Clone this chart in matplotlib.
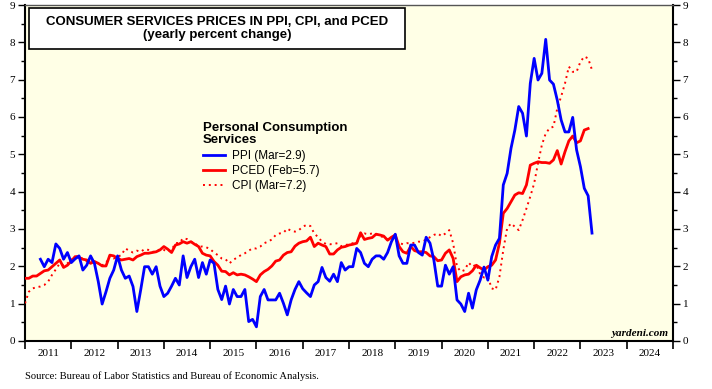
import numpy as np
import matplotlib
matplotlib.use('Agg')
import matplotlib.pyplot as plt
from matplotlib.patches import Rectangle

# monthly series, yearly % change (x = month end, so Dec 2010 sits on 2011.0)
ppi_start = (2011, 4)
ppi = [2.19, 1.99, 2.19, 2.10, 2.60, 2.48, 2.19, 2.37, 2.10, 2.20, 2.28, 1.90, 2.03, 2.28, 2.08, 1.59,
       0.99, 1.32, 1.68, 1.90, 2.28, 1.90, 1.68, 1.74, 1.46, 0.79, 1.37, 1.99, 1.99, 1.79, 1.99, 1.47,
       1.19, 1.28, 1.47, 1.68, 1.50, 2.28, 1.70,
       1.99, 2.19, 1.70, 2.10, 1.79, 2.17, 2.08, 1.38, 1.11, 1.47, 0.99, 1.38, 1.19, 1.19, 1.38, 0.52,
       0.58, 0.38, 1.19, 1.38, 1.10, 1.10, 1.10, 1.28, 1.01, 0.70, 1.10, 1.38, 1.59, 1.40, 1.29, 1.19,
       1.50, 1.59, 1.97, 1.70, 1.60, 1.79, 1.59, 2.10, 1.90, 1.99,
       1.99, 2.48, 2.37, 2.08, 1.99, 2.19, 2.28, 2.28, 2.19, 2.37, 2.66, 2.86, 2.28, 2.08, 2.08, 2.57,
       2.57, 2.37, 2.30, 2.78, 2.62, 2.17, 1.47, 1.47, 2.03, 1.79, 1.99, 1.10, 0.99, 0.79, 1.28, 0.88,
       1.37, 1.63, 1.98,
       1.63, 2.26, 2.57, 2.75, 4.18, 4.49, 5.16, 5.65, 6.28, 6.10, 5.49, 6.90, 7.57, 6.99, 7.17, 8.08,
       6.99, 6.88, 6.45, 5.92, 5.60, 5.60, 5.99, 5.12, 4.67, 4.09, 3.89, 2.89]

pced_start = (2010, 12)
pced = [1.68, 1.68, 1.74, 1.74, 1.81, 1.88, 1.90, 1.99, 2.08, 2.17, 1.97, 2.03, 2.14, 2.26, 2.24, 2.19,
        2.17, 2.08, 2.13, 2.08, 2.01, 2.01, 2.30, 2.28, 2.21, 2.17, 2.19, 2.21, 2.17, 2.26, 2.30, 2.35,
        2.35, 2.37, 2.39, 2.44, 2.53, 2.46, 2.37, 2.57, 2.60, 2.66, 2.62,
        2.66, 2.59, 2.53, 2.35, 2.30, 2.28, 2.13, 2.03, 1.87, 1.86, 1.77, 1.83, 1.77, 1.79, 1.77, 1.72,
        1.66, 1.59, 1.77, 1.86, 1.92, 2.01, 2.14, 2.17, 2.30, 2.37, 2.39, 2.54, 2.62, 2.66, 2.68, 2.78,
        2.53, 2.62, 2.57, 2.53, 2.33, 2.33, 2.44, 2.51, 2.53, 2.57,
        2.59, 2.62, 2.90, 2.72, 2.75, 2.77, 2.86, 2.84, 2.81, 2.70, 2.78, 2.84, 2.53, 2.39, 2.35, 2.53,
        2.42, 2.39, 2.39, 2.37, 2.28, 2.26, 2.15, 2.17, 2.35, 2.44, 2.21, 1.59, 1.72, 1.77, 1.79, 1.88,
        2.03, 1.96, 1.90,
        1.99, 2.03, 2.17, 2.62, 3.42, 3.55, 3.73, 3.91, 3.97, 3.95, 4.18, 4.71, 4.76, 4.80, 4.78, 4.78,
        4.76, 4.85, 5.10, 4.74, 5.07, 5.36, 5.49, 5.31, 5.36, 5.65, 5.69]

cpi_start = (2010, 12)
cpi = [1.01, 1.32, 1.41, 1.44, 1.46, 1.50, 1.59, 1.77, 1.92, 2.08, 2.03, 2.08, 2.17, 2.26, 2.28, 2.19,
       2.13, 2.17, 2.10, 2.08, 2.03, 2.08, 2.28, 2.21, 2.26, 2.30, 2.48, 2.42, 2.37, 2.42, 2.39, 2.46,
       2.44, 2.39, 2.39, 2.46, 2.44, 2.39, 2.44, 2.62, 2.63, 2.75, 2.73,
       2.66, 2.63, 2.53, 2.53, 2.51, 2.46, 2.37, 2.30, 2.21, 2.19, 2.08, 2.17, 2.24, 2.30, 2.35, 2.42,
       2.48, 2.48, 2.53, 2.62, 2.66, 2.72, 2.84, 2.88, 2.90, 3.01, 2.95, 2.93, 2.97, 3.06, 3.11, 3.08,
       2.88, 2.78, 2.66, 2.60, 2.59, 2.60, 2.62, 2.54, 2.57, 2.59,
       2.62, 2.63, 2.81, 2.88, 2.86, 2.88, 2.87, 2.81, 2.78, 2.72, 2.78, 2.70, 2.63, 2.59, 2.62, 2.62,
       2.63, 2.66, 2.66, 2.72, 2.78, 2.84, 2.88, 2.81, 2.88, 2.97, 2.62, 1.99, 1.86, 1.90, 2.10, 1.99,
       2.05, 1.79, 1.70,
       1.72, 1.41, 1.37, 1.72, 2.44, 3.02, 3.15, 3.06, 2.97, 3.24, 3.55, 3.87, 4.22, 4.76, 5.25, 5.56,
       5.70, 5.74, 6.23, 6.55, 6.90, 7.35, 7.21, 7.21, 7.48, 7.62, 7.57, 7.26]

years = list(range(2011, 2025))
labels = ['PPI (Mar=2.9)', 'PCED (Feb=5.7)', 'CPI (Mar=7.2)']


def month_x(start, n):
    # month-end position in fractional years
    y, m = start
    return y + (m + np.arange(n)) / 12.0


sans = ['Liberation Sans', 'DejaVu Sans']
serif = ['Liberation Serif', 'DejaVu Serif']

fig = plt.figure(figsize=(7.12, 3.89), dpi=100)
ax = fig.add_axes([25 / 712, 48 / 389, 648 / 712, 336 / 389])
ax.set_facecolor('#FFFFE6')

ax.plot(month_x(ppi_start, len(ppi)), ppi, color='#0000FF', lw=2.0, label=labels[0], zorder=4)
ax.plot(month_x(pced_start, len(pced)), pced, color='#FF0000', lw=2.0, label=labels[1], zorder=3)
ax.plot(month_x(cpi_start, len(cpi)), cpi, color='#FF0000', lw=1.4, ls=(0, (1, 2)),
        label=labels[2], zorder=3)

ax.set_xlim(2011, 2025)
ax.set_ylim(0, 9)

# y axis, both sides
ax.set_yticks(range(0, 10))
ax.set_yticks(np.arange(0.5, 9, 1), minor=True)
ax.tick_params(axis='y', which='both', left=True, right=True, labelleft=True, labelright=True,
               direction='out', width=1, labelsize=8, pad=2)
ax.tick_params(axis='y', which='major', length=5)
ax.tick_params(axis='y', which='minor', length=3)

# x axis: ticks at year boundaries, labels in the middle
ax.set_xticks(years + [2025])
ax.set_xticklabels([])
ax.set_xticks([y + 0.5 for y in years], minor=True)
ax.set_xticklabels([str(y) for y in years], minor=True)
ax.tick_params(axis='x', which='major', length=6, width=1.2, direction='out')
ax.tick_params(axis='x', which='minor', length=0, labelsize=8, pad=6)

for lab in ax.get_xticklabels(minor=True):
    lab.set_family(serif)
for t in ax.yaxis.get_major_ticks():
    t.label1.set_family(serif)
    t.label2.set_family(serif)
    t.label2.set_fontsize(8)

for s in ['left', 'right', 'bottom']:
    ax.spines[s].set_linewidth(1.5)
ax.spines['top'].set_linewidth(1.0)
ax.spines['top'].set_color('#555555')

# title box
ax.add_patch(Rectangle((0.006, 0.869), 0.58, 0.122, transform=ax.transAxes,
                       facecolor='white', edgecolor='black', lw=1.2, zorder=5))
ax.text(0.006 + 0.29, 0.930, 'CONSUMER SERVICES PRICES IN PPI, CPI, and PCED\n(yearly percent change)',
        transform=ax.transAxes, ha='center', va='center', fontsize=9.5, fontweight='bold',
        family=sans, linespacing=1.1, zorder=6)

leg = ax.legend(loc='upper left', bbox_to_anchor=(0.274, 0.653), frameon=False,
                title='Personal Consumption\nServices', alignment='left',
                prop={'family': sans, 'size': 8.5}, handlelength=1.9, handletextpad=0.6,
                labelspacing=0.27, borderpad=0, borderaxespad=0)
leg.get_title().set_fontweight('bold')
leg.get_title().set_fontsize(9.5)
leg.get_title().set_family(sans)
leg.get_title().set_linespacing(1.1)

ax.text(0.993, 0.01, 'yardeni.com', transform=ax.transAxes, ha='right', va='bottom',
        fontsize=8, fontweight='bold', style='italic', family=serif)

fig.text(25 / 712, 1 - 376 / 389, 'Source: Bureau of Labor Statistics and Bureau of Economic Analysis.',
         ha='left', va='center', fontsize=7.6, family=serif)

fig.savefig('out.png', dpi=100)
